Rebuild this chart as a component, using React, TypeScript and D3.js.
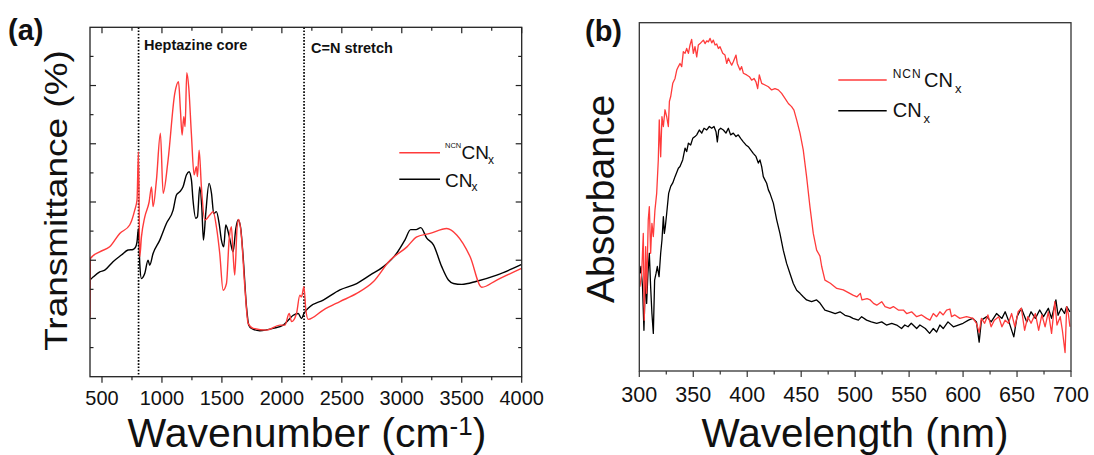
import React from 'react';
import * as d3 from 'd3';

// ---------- Panel (a): FTIR ----------
const FTIR_X_TICKS = [500, 1000, 1500, 2000, 2500, 3000, 3500, 4000];
const FTIR_X_MINOR = [750, 1250, 1750, 2250, 2750, 3250, 3750];
const FTIR_Y_MAJOR = [2, 4, 6, 8, 10];
const FTIR_Y_MINOR = [1, 3, 5, 7, 9, 11];
const FTIR_MARKERS = [805, 2185];
const FTIR_MARKER_LABELS = ['Heptazine core', 'C=N stretch'];

const FTIR_NCN: [number, number][] = [
  [400, 2.03], [403, 4.06], [481, 4.29], [564, 4.46], [648, 4.92], [731, 5.21], [773, 5.72], [792, 6.07],
  [804, 7.73], [815, 4.12], [829, 4.8], [857, 5.49], [893, 6.0], [913, 6.52], [926, 5.84], [954, 6.75],
  [987, 8.36], [1010, 6.3], [1051, 7.44], [1107, 9.73], [1138, 10.13], [1154, 9.16], [1168, 8.3], [1182, 8.93],
  [1193, 8.59], [1207, 10.44], [1223, 9.96], [1246, 8.3], [1268, 6.93], [1287, 7.21], [1296, 6.87], [1310, 7.78],
  [1329, 6.52], [1357, 5.38], [1399, 5.55], [1427, 5.67], [1454, 5.15], [1482, 4.23], [1510, 2.97], [1538, 3.2],
  [1560, 4.69], [1579, 5.15], [1593, 4.23], [1607, 3.49], [1627, 5.15], [1640, 5.4], [1663, 4.81], [1691, 3.09],
  [1719, 1.83], [1761, 1.66], [1872, 1.6], [1983, 1.77], [2025, 1.77], [2061, 2.17], [2081, 1.89], [2122, 2.17],
  [2150, 2.8], [2164, 2.74], [2184, 3.09], [2200, 2.29], [2220, 1.97], [2345, 2.29], [2484, 2.58], [2624, 2.86],
  [2762, 3.26], [2902, 4.0], [3041, 4.45], [3125, 4.8], [3236, 4.92], [3375, 5.09], [3458, 4.87], [3570, 4.12],
  [3667, 3.07], [3792, 3.32], [4000, 3.72],
];

const FTIR_CN: [number, number][] = [
  [400, 3.32], [428, 3.43], [481, 3.6], [523, 3.66], [592, 3.95], [662, 4.18], [717, 4.35], [759, 4.37],
  [781, 4.46], [792, 4.63], [804, 5.09], [815, 3.89], [829, 3.37], [857, 3.55], [884, 4.0], [898, 3.83],
  [926, 4.23], [982, 4.69], [1037, 5.26], [1093, 5.72], [1121, 6.24], [1148, 6.35], [1176, 6.52], [1204, 6.93],
  [1226, 7.04], [1246, 6.75], [1259, 6.07], [1282, 5.44], [1296, 5.49], [1315, 6.52], [1332, 5.84], [1346, 4.69],
  [1365, 5.6], [1393, 6.64], [1413, 6.3], [1432, 5.6], [1454, 5.67], [1477, 5.26], [1496, 4.69], [1515, 4.46],
  [1532, 5.21], [1552, 4.98], [1571, 4.63], [1593, 4.29], [1616, 5.09], [1635, 5.38], [1655, 5.15], [1677, 4.12],
  [1705, 2.4], [1724, 1.77], [1747, 1.66], [1816, 1.58], [1928, 1.66], [2011, 1.77], [2053, 1.94], [2095, 2.11],
  [2136, 2.17], [2164, 2.0], [2184, 2.17], [2233, 2.4], [2345, 2.63], [2484, 2.98], [2624, 3.2], [2735, 3.49],
  [2847, 3.78], [2958, 4.24], [3027, 4.7], [3074, 5.05], [3119, 5.05], [3158, 5.12], [3208, 4.76], [3264, 4.53],
  [3333, 3.78], [3389, 3.32], [3431, 3.2], [3500, 3.17], [3625, 3.28], [3792, 3.49], [4000, 3.86],
];

// ---------- Panel (b): UV-vis ----------
const UV_X_TICKS = [300, 350, 400, 450, 500, 550, 600, 650, 700];
const UV_X_MINOR = [325, 375, 425, 475, 525, 575, 625, 675];

const UV_NCN: [number, number][] = [
  [300.6, 0.242], [302.2, 0.28], [303.7, 0.395], [304.6, 0.146], [305.9, 0.357], [306.8, 0.223], [308.3, 0.434],
  [309.3, 0.472], [310.5, 0.338], [311.7, 0.424], [313.0, 0.386], [314.5, 0.462], [316.1, 0.51], [317.6, 0.606],
  [318.5, 0.721], [319.8, 0.615], [321.0, 0.73], [322.3, 0.702], [323.8, 0.75], [325.4, 0.73], [326.9, 0.702],
  [327.9, 0.774], [329.1, 0.788], [331.0, 0.826], [333.1, 0.84], [334.7, 0.864], [336.2, 0.874], [337.7, 0.883],
  [339.3, 0.874], [340.8, 0.917], [342.4, 0.912], [343.9, 0.926], [345.5, 0.912], [347.0, 0.936], [348.5, 0.952],
  [350.1, 0.912], [351.6, 0.931], [353.2, 0.902], [354.7, 0.936], [356.3, 0.94], [357.8, 0.945], [359.4, 0.95],
  [360.9, 0.94], [362.5, 0.948], [364.0, 0.945], [365.6, 0.955], [367.1, 0.942], [368.6, 0.95], [370.2, 0.936],
  [371.7, 0.939], [373.3, 0.926], [374.8, 0.931], [377.3, 0.912], [379.4, 0.907], [381.0, 0.883], [382.5, 0.898],
  [384.0, 0.888], [385.6, 0.878], [387.1, 0.888], [389.6, 0.907], [390.8, 0.883], [393.3, 0.864], [394.8, 0.874],
  [396.4, 0.855], [399.5, 0.85], [402.0, 0.845], [404.1, 0.835], [406.3, 0.84], [408.1, 0.83], [409.7, 0.811],
  [411.2, 0.85], [413.4, 0.826], [416.5, 0.821], [419.6, 0.816], [422.6, 0.807], [425.7, 0.811], [428.8, 0.807],
  [431.9, 0.797], [435.0, 0.783], [438.1, 0.768], [441.1, 0.759], [443.3, 0.749], [445.8, 0.721], [448.9, 0.683],
  [451.9, 0.635], [455.0, 0.558], [458.1, 0.472], [461.2, 0.395], [464.3, 0.347], [467.4, 0.33], [469, 0.3],
  [472, 0.261], [477, 0.252], [483, 0.237], [489, 0.233], [495, 0.223], [498, 0.218], [501.7, 0.213],
  [504.8, 0.223], [506.3, 0.204], [511, 0.208], [514, 0.204], [517, 0.194], [520, 0.189], [524.6, 0.199],
  [527.7, 0.185], [532.3, 0.18], [535.4, 0.185], [540, 0.175], [544.7, 0.175], [547.7, 0.165], [552.3, 0.17],
  [557, 0.156], [561.6, 0.161], [566.2, 0.151], [569.3, 0.146], [572.4, 0.165], [575.5, 0.156], [578.5, 0.17],
  [581.6, 0.161], [584.7, 0.175], [587.8, 0.178], [589.3, 0.156], [592.4, 0.161], [597, 0.151], [603.2, 0.156],
  [609.3, 0.151], [612.4, 0.137], [614.9, 0.11], [617, 0.151], [620, 0.137], [623, 0.161], [626, 0.127],
  [629, 0.146], [633, 0.156], [636, 0.127], [639, 0.146], [642, 0.137], [645, 0.165], [648, 0.127], [651, 0.17],
  [654, 0.18], [657, 0.117], [660, 0.156], [663, 0.137], [667, 0.165], [670, 0.117], [673, 0.161], [676, 0.127],
  [679, 0.17], [682, 0.108], [685, 0.199], [687, 0.132], [690, 0.156], [692, 0.117], [694.5, 0.053], [696, 0.185],
  [697.5, 0.165], [699, 0.127],
];

const UV_CN: [number, number][] = [
  [300.6, 0.28], [301.5, 0.3], [303, 0.242], [304.3, 0.117], [305.6, 0.261], [306.8, 0.194], [308, 0.28],
  [309.3, 0.338], [310.5, 0.242], [311.7, 0.165], [313, 0.108], [314.2, 0.261], [315.5, 0.28], [316.7, 0.3],
  [318.3, 0.271], [319.8, 0.338], [321, 0.376], [322.3, 0.443], [323.2, 0.395], [324.1, 0.414], [325.4, 0.453],
  [327.2, 0.51], [329.1, 0.53], [331, 0.54], [333.1, 0.558], [336.2, 0.582], [337.7, 0.587], [340.2, 0.606],
  [342.4, 0.64], [343.9, 0.63], [345.5, 0.654], [347.6, 0.649], [349.5, 0.668], [351.6, 0.673], [353.2, 0.678],
  [355.6, 0.692], [357.8, 0.683], [360, 0.697], [362.5, 0.692], [364.9, 0.702], [367.1, 0.697], [369.2, 0.702],
  [371.1, 0.687], [372.3, 0.658], [373.6, 0.692], [375.4, 0.697], [377.9, 0.692], [380.3, 0.683], [382.5, 0.697],
  [384.6, 0.678], [387.1, 0.683], [389.6, 0.673], [391.7, 0.678], [393.9, 0.668], [396.4, 0.658], [398.8, 0.649],
  [401, 0.644], [403.2, 0.635], [405.6, 0.625], [408.1, 0.616], [410.3, 0.597], [411.8, 0.606], [413.4, 0.587],
  [414.9, 0.558], [416.5, 0.548], [418, 0.539], [419.6, 0.52], [421.1, 0.51], [424.2, 0.482], [427.3, 0.434],
  [430.3, 0.395], [433.4, 0.347], [436.5, 0.309], [439.6, 0.28], [442.7, 0.251], [445.8, 0.232], [448.9, 0.223],
  [451.9, 0.213], [455, 0.204], [459.6, 0.199], [464.3, 0.204], [467.4, 0.195], [472, 0.175], [477, 0.17],
  [481.5, 0.165], [486, 0.17], [490.6, 0.16], [495, 0.156], [498, 0.151], [503, 0.146], [506, 0.156],
  [510.6, 0.146], [515, 0.141], [520, 0.137], [524.6, 0.141], [529, 0.132], [533.9, 0.137], [538.5, 0.132],
  [543, 0.122], [546, 0.132], [549, 0.127], [552, 0.137], [557, 0.122], [560, 0.132], [565, 0.122], [569, 0.108],
  [572.4, 0.122], [575.5, 0.112], [578.5, 0.132], [581.6, 0.122], [586, 0.141], [591, 0.127], [595.5, 0.132],
  [600, 0.137], [605, 0.146], [609, 0.151], [612.4, 0.141], [614.9, 0.083], [617, 0.146], [622, 0.156],
  [626, 0.141], [631, 0.165], [636, 0.151], [639, 0.17], [642, 0.146], [647, 0.098], [650, 0.156], [654, 0.18],
  [659, 0.141], [663, 0.17], [667, 0.151], [671, 0.175], [674.5, 0.156], [679, 0.18], [682, 0.151], [686, 0.204],
  [688, 0.16], [691, 0.18], [694, 0.165], [696, 0.185], [699, 0.17],
];

const RED = '#ff3b3b';
const BLACK = '#000000';
const FONT = "'Liberation Sans', Arial, Helvetica, sans-serif";

export default function App() {
  const W = 1094;
  const H = 455;
  const A = { l: 90, r: 521.7, t: 27.3, b: 376.7 };
  const B = { l: 639.3, r: 1071, t: 22.7, b: 371 };

  const xa = d3.scaleLinear().domain([400, 4000]).range([A.l, A.r]);
  const ya = d3.scaleLinear().domain([0, 12]).range([A.b, A.t]);
  const xb = d3.scaleLinear().domain([300, 700]).range([B.l, B.r]);
  const yb = d3.scaleLinear().domain([0, 1]).range([B.b, B.t]);

  const lineA = d3
    .line<[number, number]>()
    .x((d) => xa(d[0]))
    .y((d) => ya(d[1]))
    .curve(d3.curveMonotoneX);
  const lineB = d3
    .line<[number, number]>()
    .x((d) => xb(d[0]))
    .y((d) => yb(d[1]));

  const major = 6;
  const minor = 3.5;
  const tickFsA = 21;
  const tickSxA = 0.95;

  return (
    <svg
      width={W}
      height={H}
      viewBox={`0 0 ${W} ${H}`}
      style={{ position: 'absolute', left: 0, top: 0, background: '#fff' }}
      fontFamily={FONT}
    >
      <defs>
        <clipPath id="clipA">
          <rect x={A.l} y={A.t} width={A.r - A.l} height={A.b - A.t} />
        </clipPath>
        <clipPath id="clipB">
          <rect x={B.l} y={B.t} width={B.r - B.l} height={B.b - B.t} />
        </clipPath>
      </defs>
      <rect x={0} y={0} width={W} height={H} fill="#fff" />

      {/* ================= Panel (a) ================= */}
      <text x={8} y={40} fontSize={29} fontWeight="bold" fill="#111">(a)</text>

      {FTIR_MARKERS.map((m) => (
        <line key={m} x1={xa(m)} x2={xa(m)} y1={A.t} y2={A.b} stroke="#000" strokeWidth={1.7} strokeDasharray="1.6,1.6" />
      ))}
      <text x={xa(FTIR_MARKERS[0]) + 5.5} y={49.5} fontSize={14.5} fontWeight="bold" fill="#111">
        {FTIR_MARKER_LABELS[0]}
      </text>
      <text x={xa(FTIR_MARKERS[1]) + 7} y={52.5} fontSize={14.5} fontWeight="bold" fill="#111">
        {FTIR_MARKER_LABELS[1]}
      </text>

      <g clipPath="url(#clipA)" fill="none" strokeLinejoin="round">
        <path d={lineA(FTIR_CN) || ''} stroke={BLACK} strokeWidth={1.4} />
        <path d={lineA(FTIR_NCN) || ''} stroke={RED} strokeWidth={1.4} />
      </g>

      <rect x={A.l} y={A.t} width={A.r - A.l} height={A.b - A.t} fill="none" stroke="#222" strokeWidth={1.3} />

      {FTIR_X_TICKS.map((t) => (
        <g key={'ax' + t}>
          <line x1={xa(t)} x2={xa(t)} y1={A.b} y2={A.b + major} stroke="#222" strokeWidth={1.2} />
          <line x1={xa(t)} x2={xa(t)} y1={A.t} y2={A.t + major} stroke="#222" strokeWidth={1.2} />
          <text
            transform={`translate(${xa(t)},405) scale(${tickSxA},1)`}
            textAnchor="middle"
            fontSize={tickFsA}
            fill="#111"
          >
            {t}
          </text>
        </g>
      ))}
      {FTIR_X_MINOR.map((t) => (
        <g key={'axm' + t}>
          <line x1={xa(t)} x2={xa(t)} y1={A.b} y2={A.b + minor} stroke="#222" strokeWidth={1.2} />
          <line x1={xa(t)} x2={xa(t)} y1={A.t} y2={A.t + minor} stroke="#222" strokeWidth={1.2} />
        </g>
      ))}
      {FTIR_Y_MAJOR.map((t) => (
        <g key={'ay' + t}>
          <line x1={A.l} x2={A.l + major} y1={ya(t)} y2={ya(t)} stroke="#222" strokeWidth={1.2} />
          <line x1={A.r} x2={A.r - major} y1={ya(t)} y2={ya(t)} stroke="#222" strokeWidth={1.2} />
        </g>
      ))}
      {FTIR_Y_MINOR.map((t) => (
        <g key={'aym' + t}>
          <line x1={A.l} x2={A.l + minor} y1={ya(t)} y2={ya(t)} stroke="#222" strokeWidth={1.2} />
          <line x1={A.r} x2={A.r - minor} y1={ya(t)} y2={ya(t)} stroke="#222" strokeWidth={1.2} />
        </g>
      ))}

      <text transform={`translate(67,200.5) scale(0.87,1) rotate(-90)`} textAnchor="middle" fontSize={37} fill="#111">
        Transmittance (%)
      </text>
      <text x={307} y={447} textAnchor="middle" fontSize={41} fill="#111">
        Wavenumber (cm
        <tspan dy={-12} fontSize={26}>-1</tspan>
        <tspan dy={12} fontSize={41}>)</tspan>
      </text>

      {/* legend (a) */}
      <line x1={399.3} x2={440} y1={152.7} y2={152.7} stroke={RED} strokeWidth={1.4} />
      <line x1={399.3} x2={440} y1={179.3} y2={179.3} stroke={BLACK} strokeWidth={1.4} />
      <text fill="#111">
        <tspan x={445} y={148.3} fontSize={7.5}>NCN</tspan>
        <tspan x={461.5} y={159.3} fontSize={19}>CN</tspan>
        <tspan x={488} y={163.5} fontSize={12}>x</tspan>
      </text>
      <text fill="#111">
        <tspan x={445} y={186.7} fontSize={19}>CN</tspan>
        <tspan x={471.5} y={191} fontSize={12}>x</tspan>
      </text>

      {/* ================= Panel (b) ================= */}
      <text x={585} y={41} fontSize={29} fontWeight="bold" fill="#111">(b)</text>

      <g clipPath="url(#clipB)" fill="none" strokeLinejoin="round">
        <path d={lineB(UV_CN) || ''} stroke={BLACK} strokeWidth={1.3} />
        <path d={lineB(UV_NCN) || ''} stroke={RED} strokeWidth={1.3} />
      </g>

      <rect x={B.l} y={B.t} width={B.r - B.l} height={B.b - B.t} fill="none" stroke="#333" strokeWidth={1.3} />

      {UV_X_TICKS.map((t) => (
        <g key={'bx' + t}>
          <line x1={xb(t)} x2={xb(t)} y1={B.b} y2={B.b + major} stroke="#333" strokeWidth={1.2} />
          <text x={xb(t)} y={402} textAnchor="middle" fontSize={21.5} fill="#111">
            {t}
          </text>
        </g>
      ))}
      {UV_X_MINOR.map((t) => (
        <line key={'bxm' + t} x1={xb(t)} x2={xb(t)} y1={B.b} y2={B.b + minor} stroke="#333" strokeWidth={1.2} />
      ))}

      <text transform={`translate(614,199) rotate(-90)`} textAnchor="middle" fontSize={39} fill="#111">
        Absorbance
      </text>
      <text x={855} y={447} textAnchor="middle" fontSize={40.5} fill="#111">
        Wavelength (nm)
      </text>

      {/* legend (b) */}
      <line x1={838.3} x2={886.7} y1={80} y2={80} stroke={RED} strokeWidth={1.5} />
      <line x1={838.3} x2={886.7} y1={110.7} y2={110.7} stroke={BLACK} strokeWidth={1.5} />
      <text fill="#111">
        <tspan x={892.7} y={78.3} fontSize={12} letterSpacing={1}>NCN</tspan>
        <tspan x={924} y={86.7} fontSize={20}>CN</tspan>
        <tspan x={955} y={93.3} fontSize={13}>x</tspan>
      </text>
      <text fill="#111">
        <tspan x={892.7} y={117.3} fontSize={20}>CN</tspan>
        <tspan x={923.5} y={123.3} fontSize={13}>x</tspan>
      </text>
    </svg>
  );
}
